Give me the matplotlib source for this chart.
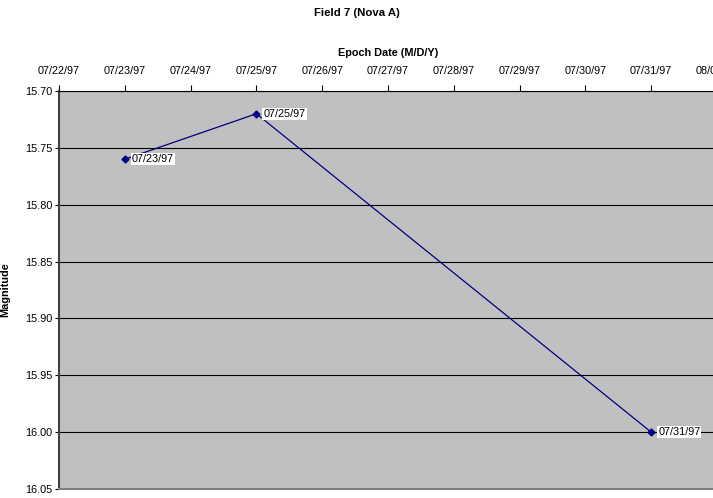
import matplotlib
matplotlib.use("Agg")
from matplotlib import pyplot as plt
import matplotlib.dates as mdates
from datetime import datetime

plt.rcParams['font.family'] = ['Liberation Sans', 'DejaVu Sans']

# observations of Nova A in field 7
dates = ["07/23/97", "07/25/97", "07/31/97"]
mags = [15.76, 15.72, 16.00]
x_start, x_end = "07/22/97", "08/01/97"
y_ticks = [15.70, 15.75, 15.80, 15.85, 15.90, 15.95, 16.00, 16.05]

days = [datetime.strptime(d, "%m/%d/%y") for d in dates]

fig = plt.figure(figsize=(7.13, 4.98), dpi=100)
ax = fig.add_axes([59/713, 9/498, 658/713, 398/498])
ax.set_facecolor('#c0c0c0')

ax.plot(days, mags, color='#000080', lw=0.9, marker='D', ms=3.5,
        mfc='#000080', mec='#000080', zorder=3)
for d, m, lab in zip(days, mags, dates):
    ax.annotate(lab, (d, m), xytext=(5, 0), textcoords='offset points',
                va='center', ha='left', fontsize=7.8,
                bbox=dict(boxstyle='square,pad=0.1', fc='white', ec='none'),
                zorder=4)

ax.set_xlim(datetime.strptime(x_start, "%m/%d/%y"), datetime.strptime(x_end, "%m/%d/%y"))
ax.set_ylim(16.05, 15.70)
ax.set_yticks(y_ticks)
ax.yaxis.set_major_formatter(plt.FormatStrFormatter('%.2f'))
ax.xaxis.set_major_locator(mdates.DayLocator())
ax.xaxis.set_major_formatter(mdates.DateFormatter('%m/%d/%y'))
ax.xaxis.tick_top()
ax.xaxis.set_label_position('top')
ax.grid(axis='y', color='black', lw=0.8)
ax.tick_params(axis='both', labelsize=7.8, width=0.8, color='black')
ax.tick_params(axis='x', length=4, pad=7)
ax.tick_params(axis='y', length=3, pad=1.5)

ax.spines['top'].set_color('black')
ax.spines['top'].set_linewidth(0.8)
ax.spines['left'].set_color('#404040')
ax.spines['left'].set_linewidth(1.5)
ax.spines['bottom'].set_color('#808080')
ax.spines['bottom'].set_linewidth(1.5)
ax.spines['right'].set_visible(False)

ax.set_xlabel('Epoch Date (M/D/Y)', fontsize=7.8, fontweight='bold', labelpad=7)
ax.set_ylabel('Magnitude', fontsize=7.8, fontweight='bold')
ax.yaxis.set_label_coords(-49/658, 0.5)
fig.text(0.5, 1 - 13/498, 'Field 7 (Nova A)', ha='center', va='center',
         fontsize=8.2, fontweight='bold')

fig.savefig('out.png', dpi=100)
